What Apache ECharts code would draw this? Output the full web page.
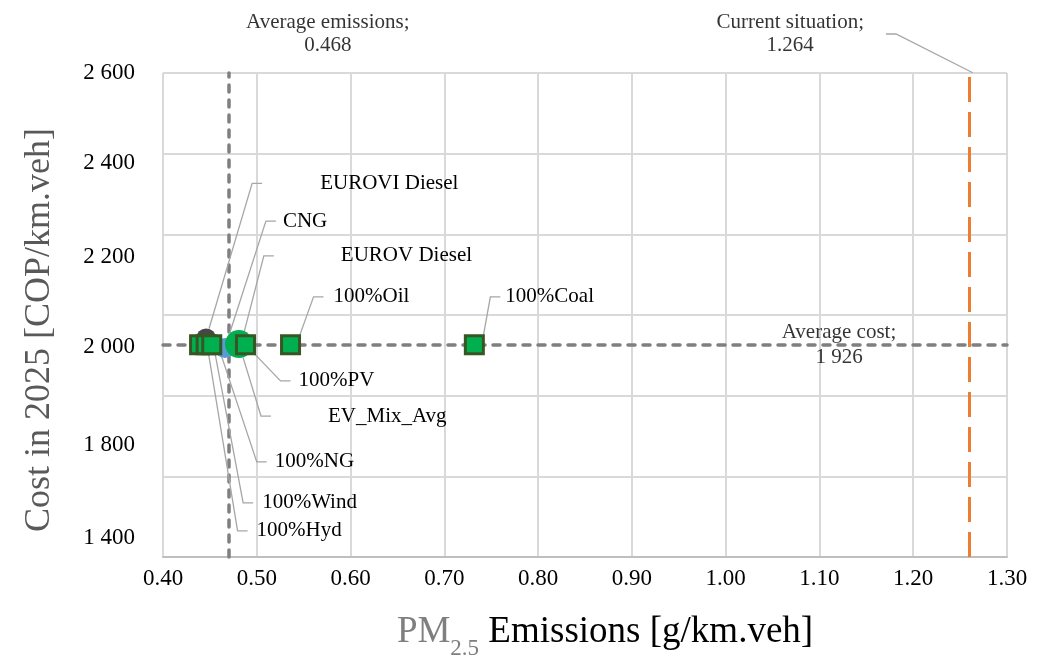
<!DOCTYPE html>
<html><head><meta charset="utf-8">
<script src="https://cdn.jsdelivr.net/npm/echarts@6/dist/echarts.min.js"></script>
<style>html,body{margin:0;padding:0;background:#fff}#c{width:1042px;height:658px}</style>
</head><body><div id="c"></div><script>
const FONT = "'Liberation Serif','Times New Roman',serif";

// ---- data ----
const dieselNames = ['EUROVI Diesel', 'EUROV Diesel'];
const dieselPM    = [0.446, 0.483];
const dieselCost  = [1942, 1926];

const cngNames = ['CNG'];
const cngPM    = [0.466];
const cngCost  = [1918];

const evMixNames = ['EV_Mix_Avg'];
const evMixPM    = [0.481];
const evMixCost  = [1928];

const evNames = ['100%Hyd', '100%Wind', '100%NG', '100%PV', '100%Oil', '100%Coal'];
const evPM    = [0.439, 0.446, 0.452, 0.488, 0.536, 0.732];
const evCost  = [1926, 1926, 1926, 1926, 1926, 1926];

const avgEmissions = 0.468;
const avgCost = 1926;
const currentEmissions = 1.264;

const yTickLabels = ['2 600', '2 400', '2 200', '2 000', '1 800', '1 400'];
const yTickAt     = [2600, 2376, 2143, 1920, 1677, 1446];

// ---- label placement (pixel offsets from the point, left padding) ----
const labelPlace = {
  'EUROVI Diesel': [56, -155, 58],
  'CNG':           [51, -127, 7],
  'EUROV Diesel':  [33, -89, 67],
  '100%Oil':       [33, -48, 10],
  '100%Coal':      [26, -48, 5],
  '100%PV':        [45, 36, 8],
  'EV_Mix_Avg':    [32, 72, 57],
  '100%NG':        [55, 117, 8],
  '100%Wind':      [47, 158, 9],
  '100%Hyd':       [48, 186, 9]
};

function pts(names, xs, ys) {
  return names.map((n, i) => ({
    name: n, value: [xs[i], ys[i]],
    label: { padding: [10, 80, 10, labelPlace[n][2]] }
  }));
}

const labelLayoutFn = function (p) {
  const item = option.series[p.seriesIndex].data[p.dataIndex];
  const off = labelPlace[item.name];
  return {
    x: p.rect.x + p.rect.width / 2 + off[0],
    y: p.rect.y + p.rect.height / 2 + off[1],
    align: 'left', verticalAlign: 'middle'
  };
};

const ptLabel = {
  show: true, formatter: '{b}', color: '#000', fontSize: 21, fontFamily: FONT,
  backgroundColor: 'rgba(0,0,0,0)'
};
const ptLabelLine = { show: true, length2: 10, lineStyle: { color: '#A6A6A6', width: 1.3 } };

// annotations
const annotPlace = [[101, -39], [-172, -39], [-168, 0]];
const annotData = [
  { name: 'Average emissions;\n' + avgEmissions.toFixed(3), value: [avgEmissions, 2600],
    label: { lineHeight: 23 } },
  { name: 'Current situation;\n' + currentEmissions.toFixed(3), value: [currentEmissions, 2600],
    label: { lineHeight: 23, padding: [0, 22, 0, 0] },
    labelLine: { show: true, length2: 10, lineStyle: { color: '#A6A6A6', width: 1.3 } } },
  { name: 'Average cost;\n' + '1 926', value: [1.3, avgCost], label: { lineHeight: 25 } }
];

const dashGray = { color: '#7F7F7F', width: 3.5, type: [7, 8], cap: 'round' };

const option = {
  animation: false,
  backgroundColor: '#ffffff',
  grid: { left: 163, right: 35, top: 73, bottom: 101, outerBoundsMode: 'none', containLabel: false },
  xAxis: {
    type: 'value', min: 0.4, max: 1.3, interval: 0.1,
    axisLine: { show: true, lineStyle: { color: '#BFBFBF', width: 2 } },
    axisTick: { show: false },
    splitLine: { show: true, lineStyle: { color: '#D9D9D9', width: 2 } },
    axisLabel: { formatter: v => v.toFixed(2), color: '#000', fontSize: 23, fontFamily: FONT, margin: 10 },
    name: '{g|PM}{s|2.5}{b| Emissions [g/km.veh]}',
    nameLocation: 'middle', nameGap: 47,
    nameTextStyle: {
      fontFamily: FONT, fontSize: 37, padding: [0, 0, 0, 40],
      rich: {
        g: { fontFamily: FONT, fontSize: 37, lineHeight: 56, color: '#7F7F7F' },
        s: { fontFamily: FONT, fontSize: 23, color: '#7F7F7F', verticalAlign: 'bottom' },
        b: { fontFamily: FONT, fontSize: 37, lineHeight: 56, color: '#000' }
      }
    }
  },
  yAxis: {
    type: 'value', min: 1400, max: 2600, interval: 200,
    axisLine: { show: false },
    axisTick: { show: false },
    splitLine: { show: true, lineStyle: { color: '#D9D9D9', width: 2 } },
    axisLabel: {
      customValues: yTickAt,
      formatter: v => { const i = yTickAt.indexOf(v); return i >= 0 ? yTickLabels[i] : ''; },
      color: '#000', fontSize: 23, fontFamily: FONT, margin: 28
    },
    name: 'Cost in 2025 [COP/km.veh]', nameLocation: 'middle', nameGap: 105,
    nameTextStyle: { fontFamily: FONT, fontSize: 36, color: '#595959', padding: [0, 30, 0, 0] }
  },
  series: [
    {
      type: 'scatter', name: 'Diesel', symbol: 'circle', symbolSize: 20,
      itemStyle: { color: '#474747', opacity: 1 },
      data: pts(dieselNames, dieselPM, dieselCost),
      label: ptLabel, labelLine: ptLabelLine, labelLayout: labelLayoutFn
    },
    {
      type: 'scatter', name: 'CNG', symbol: 'circle', symbolSize: 20,
      itemStyle: { color: '#5B9BD5', opacity: 1 },
      data: pts(cngNames, cngPM, cngCost),
      label: ptLabel, labelLine: ptLabelLine, labelLayout: labelLayoutFn
    },
    {
      type: 'scatter', name: 'EV_Mix_Avg', symbol: 'circle', symbolSize: 28,
      itemStyle: { color: '#00B050', opacity: 1 },
      data: pts(evMixNames, evMixPM, evMixCost),
      label: ptLabel, labelLine: ptLabelLine, labelLayout: labelLayoutFn
    },
    {
      type: 'scatter', name: 'EV', symbol: 'rect', symbolSize: 18,
      itemStyle: { color: '#00B050', borderColor: '#375623', borderWidth: 3, opacity: 1 },
      data: pts(evNames, evPM, evCost),
      label: ptLabel, labelLine: ptLabelLine, labelLayout: labelLayoutFn
    },
    {
      type: 'scatter', name: 'annotations', symbolSize: 1,
      itemStyle: { color: 'rgba(0,0,0,0)' },
      data: annotData,
      label: { show: true, formatter: '{b}', color: '#000', fontSize: 21, fontFamily: FONT,
               align: 'center', backgroundColor: 'rgba(0,0,0,0)' },
      labelLayout: function (p) {
        const off = annotPlace[p.dataIndex];
        return { x: p.rect.x + p.rect.width / 2 + off[0], y: p.rect.y + p.rect.height / 2 + off[1],
                 align: 'center', verticalAlign: 'middle' };
      },
      markLine: {
        silent: true, symbol: 'none', z: 1, animation: false,
        label: { show: false },
        data: [
          { xAxis: avgEmissions, lineStyle: dashGray },
          { yAxis: avgCost, lineStyle: dashGray },
          { xAxis: currentEmissions, lineStyle: { color: '#ED7D31', width: 3, type: [25, 10] } }
        ]
      }
    }
  ]
};

const chart = echarts.init(document.getElementById('c'), null, { renderer: 'canvas' });
chart.setOption(option);
</script></body></html>
